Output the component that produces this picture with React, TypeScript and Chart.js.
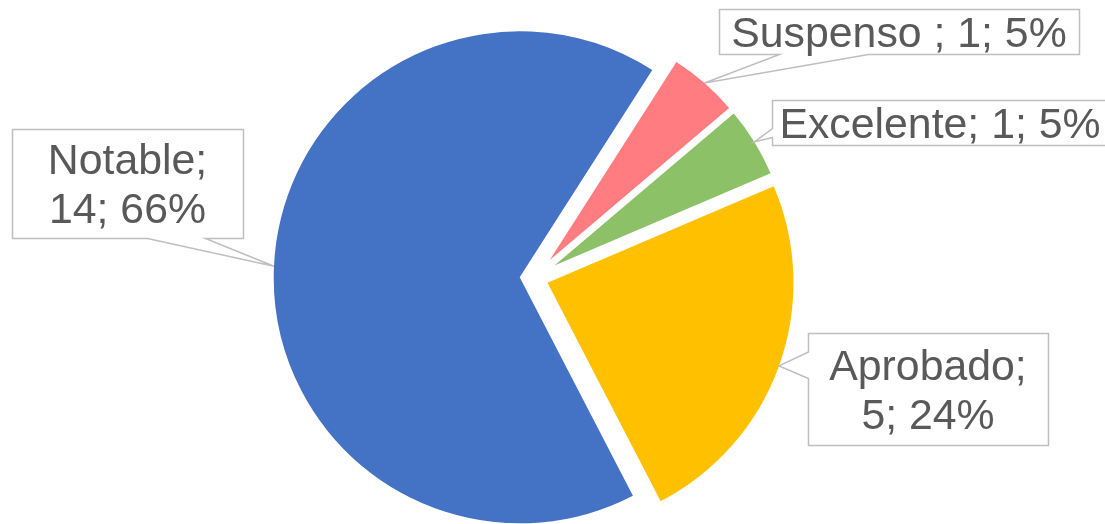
import React, { useEffect, useRef } from 'react';
import { Chart, registerables } from 'chart.js';

Chart.register(...registerables);

// ---- data ----
const categories = ['Suspenso ', 'Excelente', 'Aprobado', 'Notable'];
const values = [1, 1, 5, 14];
const percents = [5, 5, 24, 66];

// ---- styles / layout ----
const COLORS = ['#FF7C80', '#8CC168', '#FFC000', '#4472C4'];
const EXPLODE = [24, 24, 14.3, 14.3];
const RADIUS_INSET = [11, 11, 0, 0];
const FONT_SIZE = 42.8;
const LINE_H = 49;
const TEXT_COLOR = '#595959';
const BORDER_COLOR = '#BFBFBF';

type Callout = { box: { x: number; y: number; w: number; h: number }; side: 'bottom' | 'left'; a: number; b: number };
const CALLOUTS: Callout[] = [
  { box: { x: 719, y: 9, w: 360, h: 45 }, side: 'bottom', a: 60, b: 149 },
  { box: { x: 772, y: 100, w: 336, h: 45 }, side: 'left', a: 28, b: 37 },
  { box: { x: 808, y: 333, w: 240, h: 112 }, side: 'left', a: 18.5, b: 45 },
  { box: { x: 12, y: 129, w: 231, h: 109 }, side: 'bottom', a: 135, b: 193 },
];

const explodePlugin = {
  id: 'explodeSlices',
  afterDatasetUpdate(chart: any, args: any) {
    const meta = chart.getDatasetMeta(args.index);
    meta.data.forEach((arc: any, i: number) => {
      const mid = (arc.startAngle + arc.endAngle) / 2;
      const d = EXPLODE[i] || 0;
      arc.x += Math.cos(mid) * d;
      arc.y += Math.sin(mid) * d;
      arc.outerRadius -= RADIUS_INSET[i] || 0;
    });
  },
};

function wrapText(ctx: CanvasRenderingContext2D, text: string, maxW: number): string[] {
  const words = text.split(' ');
  const lines: string[] = [];
  let cur = '';
  for (const w of words) {
    const test = cur ? cur + ' ' + w : w;
    if (cur && ctx.measureText(test).width > maxW) {
      lines.push(cur);
      cur = w;
    } else {
      cur = test;
    }
  }
  if (cur) lines.push(cur);
  return lines;
}

const calloutPlugin = {
  id: 'calloutLabels',
  afterDatasetsDraw(chart: any) {
    const ctx: CanvasRenderingContext2D = chart.ctx;
    const meta = chart.getDatasetMeta(0);
    ctx.save();
    ctx.font = `${FONT_SIZE}px "Liberation Sans", Arial, sans-serif`;
    meta.data.forEach((arc: any, i: number) => {
      const c = CALLOUTS[i];
      if (!c) return;
      const mid = (arc.startAngle + arc.endAngle) / 2;
      const tip = { x: arc.x + Math.cos(mid) * arc.outerRadius, y: arc.y + Math.sin(mid) * arc.outerRadius };
      const x = Math.round(c.box.x) + 0.5;
      const y = Math.round(c.box.y) + 0.5;
      const { w, h } = c.box;
      ctx.beginPath();
      ctx.moveTo(x, y);
      ctx.lineTo(x + w, y);
      ctx.lineTo(x + w, y + h);
      if (c.side === 'bottom') {
        ctx.lineTo(x + c.b, y + h);
        ctx.lineTo(tip.x, tip.y);
        ctx.lineTo(x + c.a, y + h);
      }
      ctx.lineTo(x, y + h);
      if (c.side === 'left') {
        ctx.lineTo(x, y + c.b);
        ctx.lineTo(tip.x, tip.y);
        ctx.lineTo(x, y + c.a);
      }
      ctx.closePath();
      ctx.fillStyle = '#FFFFFF';
      ctx.fill();
      ctx.strokeStyle = BORDER_COLOR;
      ctx.lineWidth = 1.5;
      ctx.lineJoin = 'miter';
      ctx.stroke();

      const label = `${categories[i]}; ${values[i]}; ${percents[i]}%`;
      const lines = wrapText(ctx, label, w - 8);
      ctx.fillStyle = TEXT_COLOR;
      ctx.textAlign = 'center';
      ctx.textBaseline = 'alphabetic';
      const cx = c.box.x + w / 2;
      const cy = c.box.y + h / 2;
      const capH = FONT_SIZE * 0.716;
      lines.forEach((ln, k) => {
        const by = cy + capH / 2 + (k - (lines.length - 1) / 2) * LINE_H;
        ctx.fillText(ln, cx, by);
      });
    });
    ctx.restore();
  },
};

export default function App() {
  const ref = useRef<HTMLCanvasElement | null>(null);
  useEffect(() => {
    if (!ref.current) return;
    const chart = new Chart(ref.current, {
      type: 'pie',
      data: {
        labels: categories,
        datasets: [
          {
            data: values,
            backgroundColor: COLORS,
            borderWidth: 0,
          },
        ],
      },
      options: {
        responsive: false,
        animation: false,
        events: [],
        rotation: 32.6,
        radius: 246,
        layout: { padding: { left: 0, right: 37, top: 32, bottom: 0 } },
        plugins: {
          legend: { display: false },
          tooltip: { enabled: false },
        },
      },
      plugins: [explodePlugin, calloutPlugin],
    });
    return () => chart.destroy();
  }, []);
  return (
    <div style={{ position: 'fixed', left: 0, top: 0, width: 1105, height: 524, background: '#FFFFFF', overflow: 'hidden' }}>
      <canvas ref={ref} width={1105} height={524} style={{ display: 'block' }} />
    </div>
  );
}
